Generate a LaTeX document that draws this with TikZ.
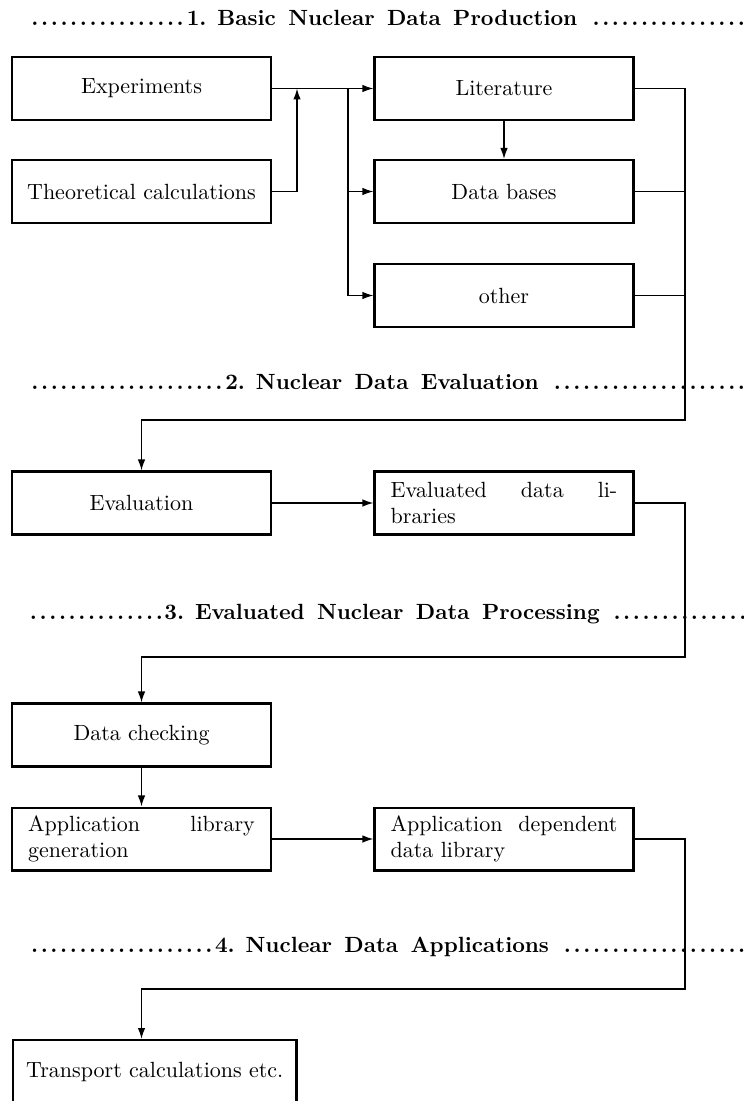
\documentclass[tikz,border=0pt]{standalone}
\usetikzlibrary{arrows.meta,calc}

\newcommand{\stagehead}[1]{{\spaceskip=5.6pt\relax\dotfill#1\ \dotfill}}

\begin{document}
\begin{tikzpicture}
  [x=0.4545pt,y=-0.4545pt,
   box/.style={draw,line width=0.95pt,minimum width=117.7pt,minimum height=28.6pt,inner xsep=6pt},
   wide box/.style={box,text width=103pt,inner xsep=7.35pt,align=justify},
   heading/.style={anchor=base west,inner sep=0pt,text width=327pt,font=\bfseries},
   link/.style={line width=0.65pt,-{Latex[length=5pt,width=3.4pt]}}]
  \path[use as bounding box] (0,0) rectangle (743,1101);
  \clip (0,0) rectangle (743,1101);

  % stage headings
  \node[heading] (h1) at (28,26) {\stagehead{1. Basic Nuclear Data Production}};
  \node[heading] (h2) at (28,389) {\stagehead{2. Nuclear Data Evaluation}};
  \node[heading] (h3) at (28,619) {\stagehead{3. Evaluated Nuclear Data Processing}};
  \node[heading] (h4) at (28,952) {\stagehead{4. Nuclear Data Applications}};

  % boxes
  \node[box] (exp) at (141.5,88.5) {Experiments};
  \node[box] (theo) at (141.5,191.5) {Theoretical calculations};
  \node[box] (lit) at (504,88.5) {Literature};
  \node[box] (dbase) at (504,191.5) {Data bases};
  \node[box] (other) at (504,295.5) {other};
  \node[box] (eval) at (141.5,503) {Evaluation};
  \node[wide box] (evlib) at (504,503) {Evaluated data li-\linebreak braries};
  \node[box] (check) at (141.5,735) {Data checking};
  \node[wide box] (appgen) at (141.5,839) {Application library\linebreak generation};
  \node[wide box] (appdep) at (504,839) {Application dependent\linebreak data library};
  \node[box,anchor=west] (trans) at (12,1071.5) {Transport calculations etc.};

  \coordinate (j1) at (297,88.5);
  \coordinate (j2) at (348,88.5);
  \coordinate (c1) at (685,88.5);
  \coordinate (c2) at (685,420);
  \coordinate (c3) at (685,657);
  \coordinate (c4) at (685,989);

  % connectors
  \draw[link] (exp) -- (lit);
  \draw[link] (theo) -| (j1);
  \draw[link] (j2) |- (dbase);
  \draw[link] (j2) |- (other);
  \draw[link] (lit) -- (dbase);
  \draw[line width=0.65pt] (dbase) -- (dbase -| c1);
  \draw[line width=0.65pt] (other) -- (other -| c1);
  \draw[link] (lit) -- (c1) -- (c2) -| (eval);
  \draw[link] (eval) -- (evlib);
  \draw[link] (evlib) -- (evlib -| c3) -- (c3) -| (check);
  \draw[link] (check) -- (appgen);
  \draw[link] (appgen) -- (appdep);
  \draw[link] (appdep) -- (appdep -| c4) -- (c4) -| (trans.north -| check);
\end{tikzpicture}
\end{document}
